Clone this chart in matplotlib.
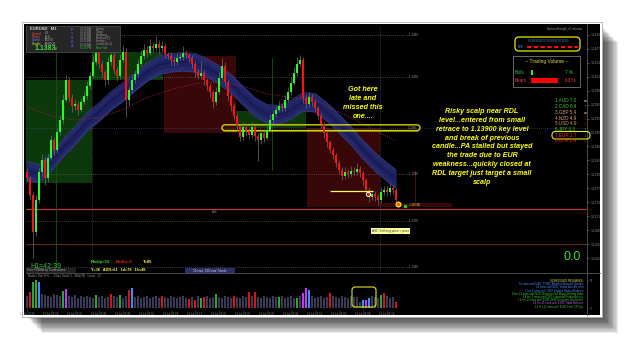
import numpy as np
import matplotlib.pyplot as plt
from matplotlib.patches import Rectangle, FancyBboxPatch

plt.rcParams['font.family'] = ['Liberation Sans', 'DejaVu Sans']

W, H = 625, 340

# ---- EURUSD M1 candles ----
first_open = 1.13805
closes = [
    1.13792, 1.13756, 1.13676, 1.13745, 1.13805, 1.13831, 1.13792, 1.13836, 1.13874, 1.13853,
    1.13891, 1.13917, 1.13960, 1.14003, 1.13965, 1.13947, 1.13952, 1.13939, 1.13956, 1.13969,
    1.13990, 1.14012, 1.14042, 1.14063, 1.14038, 1.14020, 1.14003, 1.14042, 1.14057, 1.14025,
    1.14012, 1.14046, 1.14063, 1.13960, 1.13982, 1.14003, 1.14016, 1.14038, 1.14055, 1.14068,
    1.14061, 1.14076, 1.14072, 1.14081, 1.14072, 1.14076, 1.14059, 1.14055, 1.14046, 1.14042,
    1.14050, 1.14053, 1.14061, 1.14057, 1.14050, 1.14038, 1.14020, 1.14012, 1.14018, 1.14003,
    1.13990, 1.13977, 1.13956, 1.13977, 1.14008, 1.14033, 1.13999, 1.13969, 1.13947, 1.13926,
    1.13904, 1.13881, 1.13902, 1.13894, 1.13885, 1.13902, 1.13883, 1.13874, 1.13889, 1.13879,
    1.13896, 1.13917, 1.13930, 1.13939, 1.13947, 1.13943, 1.13960, 1.13977, 1.13997, 1.14018,
    1.14038, 1.14046, 1.13965, 1.13952, 1.13967, 1.13956, 1.13943, 1.13926, 1.13909, 1.13889,
    1.13870, 1.13853, 1.13842, 1.13825, 1.13810, 1.13797, 1.13805, 1.13801, 1.13808, 1.13805,
    1.13812, 1.13803, 1.13788, 1.13767, 1.13752, 1.13758, 1.13752, 1.13745, 1.13762, 1.13767,
    1.13762, 1.13771, 1.13767, 1.13745,
]
# wick lengths beyond the body, in pips
up_wick = [
    0.8, 0.5, 0.6, 1.0, 0.8, 1.2, 0.6, 0.8, 1.0, 0.7,
    0.9, 1.0, 1.2, 1.0, 0.6, 0.7, 1.0, 0.5, 0.8, 0.9,
    1.1, 0.9, 1.3, 1.5, 0.6, 0.7, 0.5, 1.0, 1.4, 0.6,
    0.5, 1.2, 1.6, 0.8, 0.9, 1.0, 0.8, 1.1, 1.3, 1.2,
    0.8, 1.5, 0.9, 1.6, 0.7, 1.1, 0.6, 0.5, 0.8, 0.6,
    1.0, 0.9, 1.5, 0.6, 0.5, 0.7, 0.5, 0.6, 2.5, 0.6,
    0.5, 0.7, 0.4, 1.0, 1.2, 1.7, 0.8, 0.6, 0.5, 0.6,
    0.5, 0.4, 1.0, 0.8, 0.6, 1.0, 0.5, 0.6, 0.9, 0.6,
    1.0, 1.2, 0.8, 0.9, 1.0, 0.7, 1.1, 1.0, 1.3, 1.2,
    1.4, 1.0, 0.6, 0.5, 1.0, 0.6, 0.5, 0.4, 0.5, 0.4,
    0.5, 0.4, 0.5, 0.4, 0.6, 0.5, 1.0, 0.6, 1.0, 0.7,
    1.2, 0.6, 0.5, 0.4, 0.5, 0.9, 0.6, 0.5, 1.0, 0.8,
    0.7, 1.0, 0.6, 0.3,
]
dn_wick = [
    0.6, 0.8, 5.6, 0.9, 0.7, 0.8, 1.5, 0.9, 0.6, 1.2,
    0.7, 0.6, 0.8, 0.5, 1.0, 1.2, 0.9, 1.1, 0.6, 0.5,
    0.6, 0.7, 0.5, 0.6, 0.9, 1.0, 1.3, 0.8, 0.6, 1.0,
    1.2, 0.7, 0.5, 3.7, 1.0, 0.8, 0.6, 0.7, 0.5, 0.6,
    0.9, 0.5, 0.8, 0.6, 1.0, 0.7, 0.9, 0.6, 1.0, 0.8,
    0.6, 0.5, 0.7, 0.6, 0.8, 0.9, 1.0, 0.8, 0.6, 1.1,
    0.9, 1.0, 1.4, 0.7, 0.5, 0.6, 0.9, 1.1, 1.0, 0.8,
    1.0, 1.0, 0.7, 1.2, 1.0, 0.6, 1.1, 4.5, 0.8, 1.0,
    0.6, 0.5, 0.7, 0.6, 0.5, 0.8, 0.6, 0.5, 0.6, 0.5,
    0.6, 0.5, 1.2, 1.0, 0.8, 0.9, 0.7, 0.8, 0.9, 1.0,
    1.1, 0.8, 0.9, 1.0, 0.8, 1.0, 0.7, 0.9, 0.6, 0.8,
    0.7, 0.9, 1.0, 1.1, 1.2, 0.8, 1.0, 1.1, 0.7, 0.6,
    0.8, 0.7, 0.9, 0.5,
]

# 50 ema ribbon (centre) and 200 ema, sampled at candle indices
band_idx = [0, 4, 8, 12, 16, 20, 24, 28, 32, 36, 40, 44, 48, 52, 56, 60,
            64, 68, 72, 76, 80, 84, 88, 92, 96, 100, 104, 108, 112, 116, 120, 123]
band_mid = [1.13808, 1.13801, 1.13827, 1.13857, 1.13883, 1.13913, 1.13934, 1.13958,
            1.13977, 1.13999, 1.14020, 1.14035, 1.14040, 1.14042, 1.14040, 1.14029,
            1.14014, 1.13995, 1.13969, 1.13945, 1.13930, 1.13928, 1.13939, 1.13956,
            1.13954, 1.13934, 1.13909, 1.13883, 1.13853, 1.13827, 1.13805, 1.13790]
ema_idx = [0, 8, 16, 24, 32, 40, 48, 56, 64, 72, 80, 88, 96, 104, 112, 120, 123]
ema200 = [1.13945, 1.13926, 1.13917, 1.13922, 1.13939, 1.13965, 1.13982, 1.13995, 1.13999,
          1.13990, 1.13973, 1.13965, 1.13960, 1.13934, 1.13909, 1.13881, 1.13872]

# tick volume
volume = [
    12, 16, 26, 28, 26, 14, 13, 12, 11, 14,
    13, 12, 17, 19, 12, 11, 13, 10, 12, 11,
    12, 11, 10, 13, 11, 12, 10, 11, 14, 12,
    11, 13, 10, 12, 18, 20, 11, 12, 10, 11,
    12, 10, 11, 12, 10, 12, 11, 10, 12, 11,
    10, 11, 12, 10, 9, 11, 8, 12, 10, 11,
    12, 10, 11, 14, 11, 10, 12, 11, 10, 12,
    11, 10, 12, 11, 16, 12, 16, 11, 10, 12,
    11, 10, 12, 11, 11, 12, 10, 11, 12, 10,
    10, 12, 15, 20, 18, 12, 10, 11, 12, 10,
    11, 15, 12, 11, 10, 12, 11, 10, 12, 11,
    11, 6, 8, 8, 10, 12, 11, 10, 13, 15,
    12, 10, 11, 6,
]
vol_marks = {1: 'r', 2: 'g', 3: 'g', 4: 'b', 12: 'g', 13: 'm', 23: 'g', 28: 'r', 31: 'g',
             34: 'r', 35: 'b', 45: 'r', 54: 'r', 56: 'r', 58: 'g', 59: 'r', 63: 'g', 69: 'r',
             74: 'r', 76: 'r', 84: 'g', 90: 'g', 92: 'm', 93: 'm', 94: 'b', 101: 'r',
             112: 'b', 113: 'm', 114: 'b', 118: 'g', 119: 'r', 123: 'r'}

time_idx = [0, 8, 16, 24, 32, 40, 48, 56, 64, 72, 80, 88, 96, 104, 112, 120]
time_labels = ['13 Jul 2015', '13 Jul 02:24', '13 Jul 02:32', '13 Jul 02:40', '13 Jul 02:48',
               '13 Jul 02:56', '13 Jul 03:04', '13 Jul 03:12', '13 Jul 03:20', '13 Jul 03:28',
               '13 Jul 03:36', '13 Jul 03:44', '13 Jul 03:52', '13 Jul 04:00', '13 Jul 04:08',
               '13 Jul 04:16']
price_ticks = [1.1362, 1.1365, 1.1368, 1.1371, 1.1374, 1.1377, 1.1380, 1.1383, 1.1386,
               1.1389, 1.1392, 1.1395, 1.1398, 1.1401, 1.1404, 1.1407, 1.1410]

key_level = 1.1390
grid_levels = [1.1410, 1.1401, 1.1380, 1.1370, 1.1360]
red_line = 1.13726
brown_line = 1.13651
entry_price = 1.13765
last_price = 1.13737

# zones: (from idx, to idx, low, high)
green_zones = [(-0.33, 21.7, 1.13782, 1.14003), (21.7, 45.3, 1.14003, 1.14063),
               (69.7, 93.0, 1.13900, 1.13937)]
red_zones = [(45.7, 69.7, 1.13889, 1.14055), (93.3, 117.7, 1.13737, 1.13900),
             (93.3, 141.7, 1.13730, 1.13739)]

currencies = ['AUD', 'CAD', 'GBP', 'NZD', 'USD', 'JPY', 'EUR', 'CHF']
strength = [7.0, 6.4, 5.4, 4.9, 4.9, 3.3, 2.7, 1.4]
cur_colors = ['#33cc33', '#33cc33', '#d9a066', '#d9a066', '#d9a066', '#33cc33', '#ff3333', '#ff3333']
cur_trend = ['=', '↑', '=', '↓', '↓', '↑', '↓', '↓']
bulls_pct, bears_pct = 7, 93

releases = [('SCHEDULED RELEASES:', '#e6e633'),
            ('16 mins until USD: FOMC Member Brainard Speaks', '#4d8cff'),
            ('24 mins until NZD: Visitor Arrivals m/m', '#4d8cff'),
            ('1 hrs 8 mins until USD: Federal Budget Balance', '#4d8cff'),
            ('8 hrs 11 mins until NZD: Business NZ Manufacturing Index', '#33cc33'),
            ('14 hrs 4 mins until CNY: Industrial Production y/y', '#33cc33'),
            ('14 hrs 19 mins until EUR: ZEW Economic Sentiment', '#33cc33'),
            ('14 hrs 21 mins until EUR: Trade Balance', '#cc55ff'),
            ('14 hrs 21 mins until EUR: Final CPI y/y', '#33cc33')]

sessions = ['Sydney', 'Tokyo', 'Hongkong', 'Moscow (D)', 'Frankfurt', 'London (D+1)', 'New York']
session_times = ['01:15 AM', '02:15 AM', '03:15 AM', '08:15 AM', '09:15 AM', '10:15 AM', '02:15 PM']

note1 = 'Got here\nlate and\nmissed this\none....'
note2 = ('Risky scalp near RDL\nlevel...entered from small\nretrace to 1.13900 key level\n'
         'and break of previous\ncandle...PA stalled but stayed\nthe trade due to EUR\n'
         'weakness...quickly closed at\nRDL target just target a small\nscalp')


def px_box(x0, y0, x1, y1):
    return [x0 / W, 1 - y1 / H, (x1 - x0) / W, (y1 - y0) / H]


fig = plt.figure(figsize=(W / 100, H / 100), dpi=100)
fig.patch.set_facecolor('white')

# background: shadow + black terminal frame
bg = fig.add_axes([0, 0, 1, 1], zorder=0)
bg.set_xlim(0, W)
bg.set_ylim(H, 0)
bg.axis('off')
for k in range(1, 15):
    bg.add_patch(Rectangle((24 + k * 1.3, 24 + k * 1.3), 576, 291, color='black', alpha=0.08, lw=0))
bg.add_patch(Rectangle((22, 22), 580, 295, facecolor='white', edgecolor='#b0b0b0', lw=0.6))
bg.add_patch(Rectangle((24, 24), 576, 291, facecolor='black', lw=0))
bg.plot([26, 600], [272.5, 272.5], color='#555555', lw=0.6)
bg.plot([587, 587], [24, 315], color='#555555', lw=0.6)

# ---- main price chart ----
ax = fig.add_axes(px_box(26, 26, 587, 272), zorder=2)
ax.set_facecolor('none')
ax.set_xlim(-0.33, 186.67)
ax.set_ylim(1.13590, 1.14119)
for s in ['top', 'left', 'bottom', 'right']:
    ax.spines[s].set_visible(False)
ax.set_xticks([])
ax.yaxis.tick_right()
ax.set_yticks(price_ticks)
ax.set_yticklabels([f'{p:.4f}' for p in price_ticks])
ax.tick_params(axis='y', labelsize=2.3, colors='#8a8a8a', length=1.5, width=0.4, pad=1)

for x0, x1, lo, hi in green_zones:
    ax.add_patch(Rectangle((x0, lo), x1 - x0, hi - lo, color='#0c380c', lw=0, zorder=1))
for x0, x1, lo, hi in red_zones:
    ax.add_patch(Rectangle((x0, lo), x1 - x0, hi - lo, color='#380707', lw=0, zorder=1))

for lv in grid_levels:
    ax.hlines(lv, -0.33, 126, color='#7a7a7a', lw=0.5, linestyles=(0, (1, 2)), zorder=1.5)
    ax.text(126.5, lv, '—' + f'{lv:.4f}', fontsize=2.2, color='#9a9a9a', va='center', zorder=6)
ax.axhline(key_level, color='#4a5a8a', lw=0.5, ls=(0, (1, 2)), zorder=1.5)
ax.axhline(red_line, color='#b83a3a', lw=0.9, zorder=1.5)
ax.axhline(brown_line, color='#5c2a0a', lw=0.8, zorder=1.5)
ax.axvline(21.7, color='#6a6a6a', lw=0.5, ls=(0, (1, 2)), zorder=1.5)
ax.axvline(117.7, color='#6a6a6a', lw=0.5, ls=(0, (1, 2)), zorder=1.5)
ax.vlines(9.7, 1.13590, 1.14090, color='#0f5a0f', lw=0.6, zorder=1.5)
ax.vlines(81.7, 1.13810, 1.14050, color='#0f5a0f', lw=0.6, zorder=1.5)
ax.vlines(129.3, 1.13735, 1.13810, color='#5a1010', lw=0.6, zorder=1.5)

# ema ribbon
bc = np.array(band_mid)
ax.fill_between(band_idx, bc - 0.0002, bc + 0.0002, color='#282c72', alpha=0.92, lw=0, zorder=2)
ax.fill_between(band_idx, bc - 0.0001, bc + 0.0001, color='#1f2262', lw=0, zorder=2)
ax.plot(band_idx, bc + 0.0002, color='#363c8c', lw=0.5, zorder=2)
ax.plot(band_idx, bc - 0.0002, color='#363c8c', lw=0.5, zorder=2)
ax.plot(band_idx, bc, color='#15174a', lw=0.8, zorder=2)
ax.plot(ema_idx, ema200, color='#9a2357', lw=0.7, ls=(0, (1, 1.5)), zorder=2)

# key level capsule (outline, under the candles)
tr = ax.transData + bg.transData.inverted()
cx0, cy = tr.transform((65, key_level))
cx1, _ = tr.transform((131, key_level))
ax.add_patch(FancyBboxPatch((cx0, cy - 3), cx1 - cx0, 6, boxstyle='round,pad=0,rounding_size=3',
                            fill=False, ec='#e8e800', lw=0.9, transform=bg.transData, zorder=2.5))
ax.plot([66, 130], [key_level - 0.00005] * 2, color='#8a8a00', lw=1.0, zorder=2.4)
ax.text(127, key_level, '1.1390', fontsize=2.2, color='#9a9a9a', va='center', zorder=6)

# candles
idx = np.arange(len(closes))
cl = np.array(closes)
op = np.array([first_open] + closes[:-1])
hi = np.maximum(op, cl) + np.array(up_wick) * 1e-4
lo = np.minimum(op, cl) - np.array(dn_wick) * 1e-4
body = np.where(np.abs(cl - op) < 2e-5, 2e-5, cl - op)
ax.vlines(idx, lo, hi, color='#6e6e6e', lw=0.5, zorder=3)
ax.bar(idx, body, bottom=op, width=0.8, color=np.where(cl >= op, '#22ff22', '#ff1111'),
       lw=0, zorder=4)

# trade marks
ax.hlines(entry_price, 101, 115.3, color='#ffff66', lw=0.9, zorder=5)
ax.plot(113.7, entry_price - 0.00007, 'o', ms=3, mfc='none', mec='white', mew=0.7, zorder=6)
ax.plot(123.7, last_price, 'o', ms=3.5, mfc='#ff5500', mec='#ffff00', mew=0.8, zorder=7)
ax.plot(126, last_price - 0.00004, 's', ms=1.5, color='#22cc22', zorder=7)
ax.text(127.5, last_price - 0.00002, '= 00:39', fontsize=2.3, color='#e6e633', va='center', zorder=7)
ax.text(61.7, red_line - 0.00007, 'Ask', fontsize=2, color='#9a9a9a', va='center', zorder=6)
ax.text(121.3, 1.13678, 'ASC Sell avg price = price', fontsize=2.3, color='#333333',
        ha='center', va='center', zorder=6,
        bbox=dict(facecolor='#ffff99', edgecolor='none', pad=0.6))

# ---- volume panel ----
axv = fig.add_axes(px_box(26, 273, 587, 310), zorder=2)
axv.set_facecolor('none')
axv.set_xlim(-0.33, 186.67)
axv.set_ylim(-2, 35)
for s in ['top', 'left', 'bottom', 'right']:
    axv.spines[s].set_visible(False)
vcol = {'r': '#dd1111', 'g': '#22aa33', 'b': '#3a8fff', 'm': '#cc33ff'}
axv.bar(idx, volume, width=0.55, lw=0,
        color=[vcol[vol_marks[i]] if i in vol_marks else '#3a3a58' for i in idx])
axv.set_xticks(time_idx)
axv.set_xticklabels(time_labels)
axv.tick_params(axis='x', labelsize=2, colors='#8a8a8a', length=1, width=0.4, pad=0.5)
axv.yaxis.tick_right()
axv.set_yticks([0, 28])
axv.tick_params(axis='y', labelsize=2, colors='#8a8a8a', length=1, width=0.4, pad=1)

# ---- overlay texts / panels ----
ov = fig.add_axes([0, 0, 1, 1], zorder=5)
ov.set_xlim(0, W)
ov.set_ylim(H, 0)
ov.axis('off')
ov.set_facecolor('none')

yel = '#ffff00'
ov.text(363, 103, note1, ha='center', va='center', color=yel, fontsize=5.2,
        fontweight='bold', style='italic', linespacing=1.36)
ov.text(482, 147, note2, ha='center', va='center', color=yel, fontsize=5.1,
        fontweight='bold', style='italic', linespacing=1.38)

# info box top-left
ov.add_patch(Rectangle((26, 26), 94, 26, facecolor='#262626', edgecolor='#555555', lw=0.5))
ov.text(30, 29.5, 'EURUSD   M1', fontsize=3, color='#cfcfcf', fontweight='bold', va='center')
for j, (lab, val, c) in enumerate([('Spread', '0.0', '#ff4444'), ('Range', '15.6', '#ff4444'),
                                   ('Speed', '103.76', '#4d8cff'), ('Candle', '00:00:21', '#e6e633')]):
    ov.text(32, 33.5 + j * 3.4, lab, fontsize=2.2, color=c, va='center')
    ov.text(45, 33.5 + j * 3.4, val, fontsize=2.2, color='#bbbbbb', va='center')
ov.text(35, 48, '1.1383', fontsize=5, color='#33dd33', fontweight='bold', va='center')
ov.text(55, 48.5, '0', fontsize=2.5, color='#bbbbbb', va='center')
for j, ch in enumerate('PTSKA'):
    ov.text(72, 30 + j * 4, ch, fontsize=2.6, color='#4a5acc', ha='center', va='center', fontweight='bold')
for j, (t, s) in enumerate(zip(session_times, sessions)):
    c = '#33cc33' if j == len(sessions) - 1 else '#9a9a9a'
    ov.text(80, 29 + j * 3.1, t, fontsize=1.9, color=c, va='center')
    ov.text(96, 29 + j * 3.1, s, fontsize=1.9, color=c, va='center')

# top-right widgets
ov.text(583, 29, 'CurrencyStrength_v3_indicator', fontsize=1.9, color='#9a9a9a', ha='right', va='center')
ov.add_patch(FancyBboxPatch((515, 37), 65, 14, boxstyle='round,pad=0,rounding_size=4',
                            facecolor='black', edgecolor='#e8e800', lw=0.9))
ov.text(548, 41.5, '00 00 00 00 00 00 00 00 00 00 00', fontsize=1.9, color='#4d8cff', ha='center', va='center')
ov.text(518, 46.8, 'EUR', fontsize=1.9, color='#4d8cff', va='center')
ov.plot([527, 578], [46.8, 46.8], color='#ff1111', lw=1.4, ls=(0, (2.2, 1.3)))

ov.add_patch(Rectangle((513, 56), 67, 31, facecolor='black', edgecolor='#777777', lw=0.6))
ov.text(546.5, 61.5, '-- Trading Volume --', fontsize=3.5, color='#e6d85a', ha='center', va='center')
ov.text(515, 72, 'Bulls', fontsize=3.3, color='#2ecc40', va='center')
ov.text(515, 80, 'Bears', fontsize=3.3, color='#ff3333', va='center')
ov.add_patch(Rectangle((531, 69.5), 29 * bulls_pct / 100, 5, color='#22ee22', lw=0))
ov.add_patch(Rectangle((531, 77.5), 29 * bears_pct / 100, 5, color='#ff0000', lw=0))
ov.text(565, 72, f'{bulls_pct} %', fontsize=3.3, color='#2ecc40', va='center')
ov.text(565, 80, f'{bears_pct} %', fontsize=3.3, color='#ff3333', va='center')

tcol = {'=': '#cccc33', '↑': '#33dd33', '↓': '#ff2222'}
for j, (cur, sv, c, t) in enumerate(zip(currencies, strength, cur_colors, cur_trend)):
    y = 101 + j * 5.7
    ov.text(555, y, f'{j + 1}.{cur} {sv:.1f}', fontsize=3.3, color=c, va='center')
    ov.text(585, y, t, fontsize=3.6, color=tcol[t], ha='center', va='center', fontweight='bold')
ov.add_patch(FancyBboxPatch((552, 131.5), 38, 7.5, boxstyle='round,pad=0,rounding_size=3.5',
                            fill=False, edgecolor='#e8e800', lw=0.8))

ov.text(572, 257, '0.0', fontsize=9, color='#33dd33', ha='center', va='center')
for j, (txt, c) in enumerate(releases):
    ov.text(583, 281 + j * 3.2, txt, fontsize=2, color=c, ha='right', va='center')

# bottom-left status texts
ov.text(30, 266, 'H1=42:39', fontsize=5, color='#33cc33', va='center')
ov.add_patch(Rectangle((26, 268), 50, 4.5, color='#202020', lw=0))
ov.text(27, 270.3, 'Free FXBRA by Tradeshome', fontsize=2.2, color='#aaaaaa', va='center')
ov.text(91, 262, 'RmUp=53', fontsize=3, color='#33ee33', fontweight='bold', va='center')
ov.text(116, 262, 'RmDn=3', fontsize=3, color='#ff2222', fontweight='bold', va='center')
ov.text(143, 262, 'T=85', fontsize=3, color='#ffff33', fontweight='bold', va='center')
ov.text(91, 270, 'Y=36   ADR=61   1d=78   1h=48', fontsize=2.7, color='#ffff33', fontweight='bold', va='center')
ov.add_patch(Rectangle((185, 267.5), 50, 5.5, color='#2a2f6a', lw=0))
ov.text(210, 270.3, '50 ema, 200 ema Trends', fontsize=2.2, color='#cfcfcf', ha='center', va='center')
ov.text(28, 275.8, 'Broker Tick Pr%:   - Chart Scale 3,   Mrk(Off)   Count   12', fontsize=2.1,
        color='#9a9a9a', va='center')
ov.add_patch(FancyBboxPatch((352, 287), 24, 20, boxstyle='round,pad=0,rounding_size=3',
                            fill=False, edgecolor='#e8e800', lw=0.8))

fig.savefig('out.png', dpi=100, facecolor='white')
